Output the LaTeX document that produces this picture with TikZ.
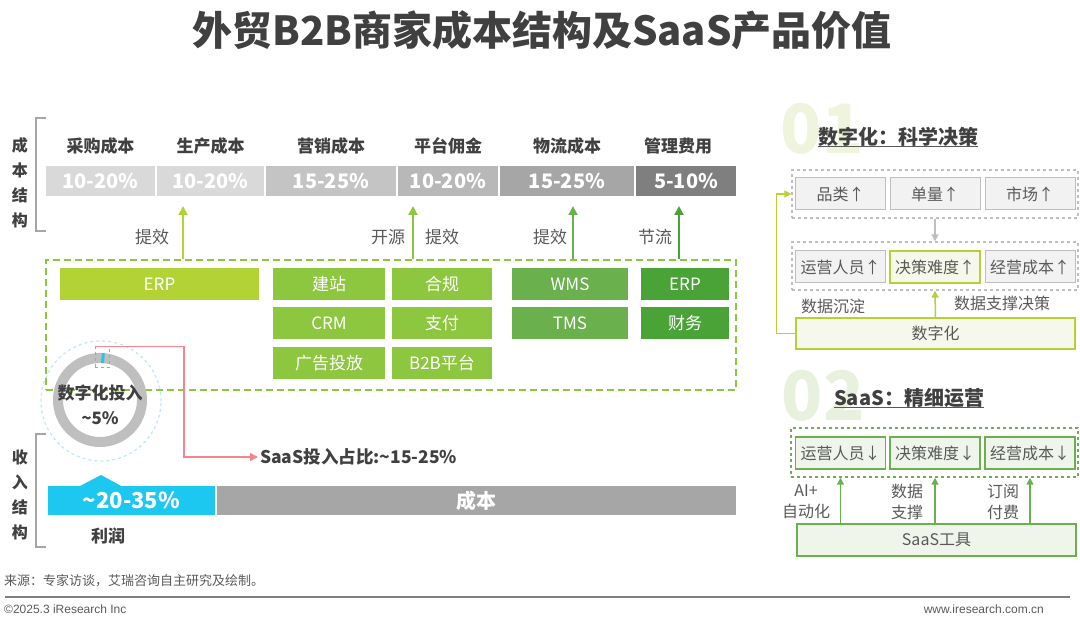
\documentclass[tikz,border=0pt]{standalone}
\usepackage{fontspec}
\setmainfont{Noto Sans CJK SC}
\newfontfamily\latinfont{Liberation Sans}
\usetikzlibrary{positioning,chains,arrows.meta,calc}
\newcommand\fsz[1]{\fontsize{#1}{#1}\selectfont}
\definecolor{txtdark}{HTML}{404040}
\definecolor{txtgray}{HTML}{595959}
\definecolor{barA}{HTML}{D9D9D9}
\definecolor{barB}{HTML}{C4C4C4}
\definecolor{barC}{HTML}{B8B8B8}
\definecolor{barD}{HTML}{A6A6A6}
\definecolor{barE}{HTML}{7F7F7F}
\definecolor{limeg}{HTML}{B3D335}
\definecolor{grnA}{HTML}{8DC63F}
\definecolor{grnB}{HTML}{6AB04C}
\definecolor{grnC}{HTML}{4AA336}
\definecolor{cyanbar}{HTML}{1CC7F0}
\definecolor{pinkline}{HTML}{F4858C}
\definecolor{ringblue}{HTML}{BDE8F7}
\definecolor{ringgray}{HTML}{BFBFBF}
\definecolor{paleA}{HTML}{EEF5DC}
\definecolor{paleB}{HTML}{E7F1DD}
\definecolor{limefill}{HTML}{F5F8EA}
\definecolor{grnfill}{HTML}{EFF5EA}
\definecolor{boxgray}{HTML}{F2F2F2}
\tikzset{
    cost bar/.style = {
        minimum height=30pt,
        inner sep=0pt,
        outer sep=0pt,
        text=white,
        font=\fsz{20}\bfseries,
        },
    cost label/.style = {
        font=\fsz{17}\bfseries,
        text=txtdark,
        label distance=8pt,
        },
    tool/.style = {
        minimum height=32pt,
        inner sep=0pt,
        outer sep=0pt,
        text=white,
        font=\fsz{17},
        },
    side note/.style = {
        font=\fontsize{16}{21}\selectfont,
        text=txtgray,
        },
    side box/.style = {
        minimum width=90pt,
        minimum height=32pt,
        inner sep=1pt,
        side note,
        },
    vertical/.style = {
        font=\fontsize{16}{25}\selectfont\bfseries,
        text=txtdark,
        align=center,
        },
    bracket/.style = {
        draw=barD,
        line width=2pt,
        },
    heading/.style = {
        anchor=west,
        inner sep=0pt,
        font=\fsz{20}\bfseries,
        text=txtdark,
        },
    big number/.style = {
        font=\fsz{68}\bfseries,
        }
}
\begin{document}
\begin{tikzpicture}[x=1pt, y=-1pt,
            start chain = going right,
            node distance = 2pt,
            CostBlock/.style={cost bar, on chain},
            ToolBlock/.style={tool, anchor=north west},
            UpArrow/.style={-{Triangle[length=9pt, width=9pt]}, line width=2pt, shorten >=10pt},
            SmallArrow/.style={-{Triangle[length=7pt, width=7pt]}, line width=1.5pt},
            GrayFrame/.style={draw=ringgray, dashed, line width=1.2pt, minimum width=286pt, minimum height=48pt},
            GreenFrame/.style={draw=grnB, dashed, line width=1.5pt, minimum width=287pt, minimum height=49pt},
            GrayBox/.style={side box, draw=ringgray, fill=boxgray, line width=1pt},
            LimeBox/.style={side box, draw=limeg, fill=limefill, line width=1.5pt},
            SaasBox/.style={side box, draw=grnB, fill=grnfill, line width=1.5pt},
            ]
            \useasboundingbox (0,0) rectangle (1080,617);
            \node [font=\fsz{40}\bfseries, text=txtdark] (title) at (542,30) {外贸B2B商家成本结构及SaaS产品价值};

            % cost structure
            \node [vertical] (cost) at (20,183) {成\\本\\结\\构};
            \draw [bracket] (46,118) -- (36,118) -- (36,231) -- (46,231);
            \node [CostBlock, anchor=west, minimum width=109pt, fill=barA, label={[cost label]above:采购成本}] (c1) at (46,181) {10-20\%};
            \node [CostBlock, minimum width=107pt, fill=barA, label={[cost label]above:生产成本}] (c2) {10-20\%};
            \node [CostBlock, minimum width=130pt, fill=barB, label={[cost label]above:营销成本}] (c3) {15-25\%};
            \node [CostBlock, minimum width=100pt, fill=barC, label={[cost label]above:平台佣金}] (c4) {10-20\%};
            \node [CostBlock, minimum width=134pt, fill=barD, label={[cost label]above:物流成本}] (c5) {15-25\%};
            \node [CostBlock, minimum width=100pt, fill=barE, label={[cost label, xshift=-8pt]above:管理费用}] (c6) {5-10\%};

            \node [draw=grnA, dash pattern=on 7pt off 4pt, line width=1.5pt, minimum width=690pt, minimum height=130pt] (frame) at (391,325) {};
            \node [ToolBlock, fill=limeg, minimum width=199pt] (erp) at (60,268) {ERP};
            \node [ToolBlock, fill=grnA, minimum width=112pt] (web) at (273,268) {建站};
            \node [ToolBlock, fill=grnA, minimum width=112pt, below=7pt of web] (crm) {CRM};
            \node [ToolBlock, fill=grnA, minimum width=112pt, below=8pt of crm] (ads) {广告投放};
            \node [ToolBlock, fill=grnA, minimum width=100pt] (law) at (392,268) {合规};
            \node [ToolBlock, fill=grnA, minimum width=100pt, below=7pt of law] (pay) {支付};
            \node [ToolBlock, fill=grnA, minimum width=100pt, below=8pt of pay] (b2b) {B2B平台};
            \node [ToolBlock, fill=grnB, minimum width=116pt] (wms) at (512,268) {WMS};
            \node [ToolBlock, fill=grnB, minimum width=116pt, below=7pt of wms] (tms) {TMS};
            \node [ToolBlock, fill=grnC, minimum width=88pt] (erpb) at (641,268) {ERP};
            \node [ToolBlock, fill=grnC, minimum width=88pt, below=7pt of erpb] (fin) {财务};

            \foreach \x/\col in {183/limeg, 413/grnA, 573/grnB, 679/grnC}
                \draw [UpArrow, draw=\col] (frame.north -| \x,0) -- (c1.south -| \x,0);
            \foreach \x/\t [count=\i] in {152/提效, 388/开源, 442/提效, 550/提效, 655/节流}
                \node [side note, font=\fsz{17}] (gain\i) at (\x,237) {\t};

            % digital share
            \node [circle, draw=ringblue, dashed, line width=1.2pt, minimum size=120pt, inner sep=0pt] (halo) at (101,401) {};
            \draw [ringgray, line width=10pt] (100,400) circle (42);
            \draw [cyanbar, line width=10pt] (100,400) ++(272:42) arc (272:276:42);
            \node [font=\fsz{17}\bfseries, text=txtdark, align=center] (share) at (100,405) {数字化投入\\[8pt]\textasciitilde5\%};
            \node [draw=pinkline, dashed, line width=1pt, minimum width=14pt, minimum height=21pt, inner sep=0pt] (hl) at (102,357.5) {};
            \coordinate (turn) at (184,0);
            \node [anchor=west, inner sep=2pt, font=\fsz{17.5}\bfseries, text=txtdark] (saas) at (258,457) {SaaS投入占比:\textasciitilde15-25\%};
            \draw [pinkline, line width=1.5pt, -{Triangle[length=8pt, width=8pt]}] (hl.north west) -| (saas.west -| turn) -- (saas.west);

            % income structure
            \node [vertical] (income) at (20,494.5) {收\\入\\结\\构};
            \draw [bracket] (46,434) -- (36,434) -- (36,547) -- (46,547);
            \node [cost bar, fill=cyanbar, minimum width=167pt, minimum height=29pt, font=\fsz{22}\bfseries] (profit) at (131.5,500.5) {\textasciitilde20-35\%};
            \fill [cyanbar] (78,487) -- (101,475) -- (123,487) -- cycle;
            \node [cost bar, fill=barD, minimum width=519pt, minimum height=29pt, right=2pt of profit] (rest) {成本};
            \node [font=\fsz{17}\bfseries, text=txtdark] (lirun) at (108,536) {利润};

            % 01
            \node [big number, text=paleA] (no1) at (822,129) {01};
            \node [heading] (h1) at (818,137) {数字化：科学决策};
            \draw [txtgray, line width=1pt] (h1.south west) -- (h1.south east);
            \node [GrayFrame] (f1) at (935,194) {};
            \node [GrayBox] (pl) at (840.5,194) {品类↑};
            \node [GrayBox] (dl) at (935,194) {单量↑};
            \node [GrayBox] (sc) at (1030,194) {市场↑};
            \node [GrayFrame] (f2) at (935,266) {};
            \node [GrayBox] (yy) at (840.5,267) {运营人员↑};
            \node [LimeBox] (jc) at (935,267) {决策难度↑};
            \node [GrayBox] (jy) at (1030,267) {经营成本↑};
            \node [LimeBox, minimum width=279pt, minimum height=31pt] (dig) at (935.5,333.5) {数字化};
            \draw [SmallArrow, draw=ringgray] (f1.south) -- (f2.north);
            \draw [SmallArrow, draw=limeg] (dig.north) -- (f2.south);
            \draw [SmallArrow, draw=limeg] (dig.west) -- ++(-19,0) |- (f1.west);
            \node [side note] (sedi) at (833,306) {数据沉淀};
            \node [side note] (supp) at (1002,303) {数据支撑决策};

            % 02
            \node [big number, text=paleB] (no2) at (823,396) {02};
            \node [heading] (h2) at (834,398) {SaaS：精细运营};
            \draw [txtgray, line width=1pt] (h2.south west) -- (h2.south east);
            \node [GreenFrame] (f3) at (934.5,452.5) {};
            \node [SaasBox] (yyb) at (840.5,453) {运营人员↓};
            \node [SaasBox] (jcb) at (935,453) {决策难度↓};
            \node [SaasBox] (jyb) at (1030,453) {经营成本↓};
            \node [SaasBox, minimum width=279pt, minimum height=32pt] (tool) at (936.5,540) {SaaS工具};
            \foreach \b in {yyb, jcb, jyb}
                \draw [SmallArrow, draw=grnB] (tool.north -| \b) -- (f3.south -| \b);
            \node [side note, align=center] (ai) at (806,502) {AI+\\自动化};
            \node [side note, align=center] (data) at (907,502) {数据\\支撑};
            \node [side note, align=center] (fee) at (1003,502) {订阅\\付费};

            % footer
            \node [anchor=west, inner sep=0pt, font=\fsz{13}, text=txtgray] (src) at (4,581) {来源：专家访谈，艾瑞咨询自主研究及绘制。};
            \draw [barE, line width=1.5pt] (5,597) -- (1070,597);
            \node [anchor=west, inner sep=0pt, font=\latinfont\fsz{12}, text=txtgray] (copy) at (4,609) {©2025.3 iResearch Inc};
            \node [anchor=east, inner sep=0pt, font=\latinfont\fsz{12}, text=txtgray] (web) at (1044,609) {www.iresearch.com.cn};
\end{tikzpicture}
\end{document}
